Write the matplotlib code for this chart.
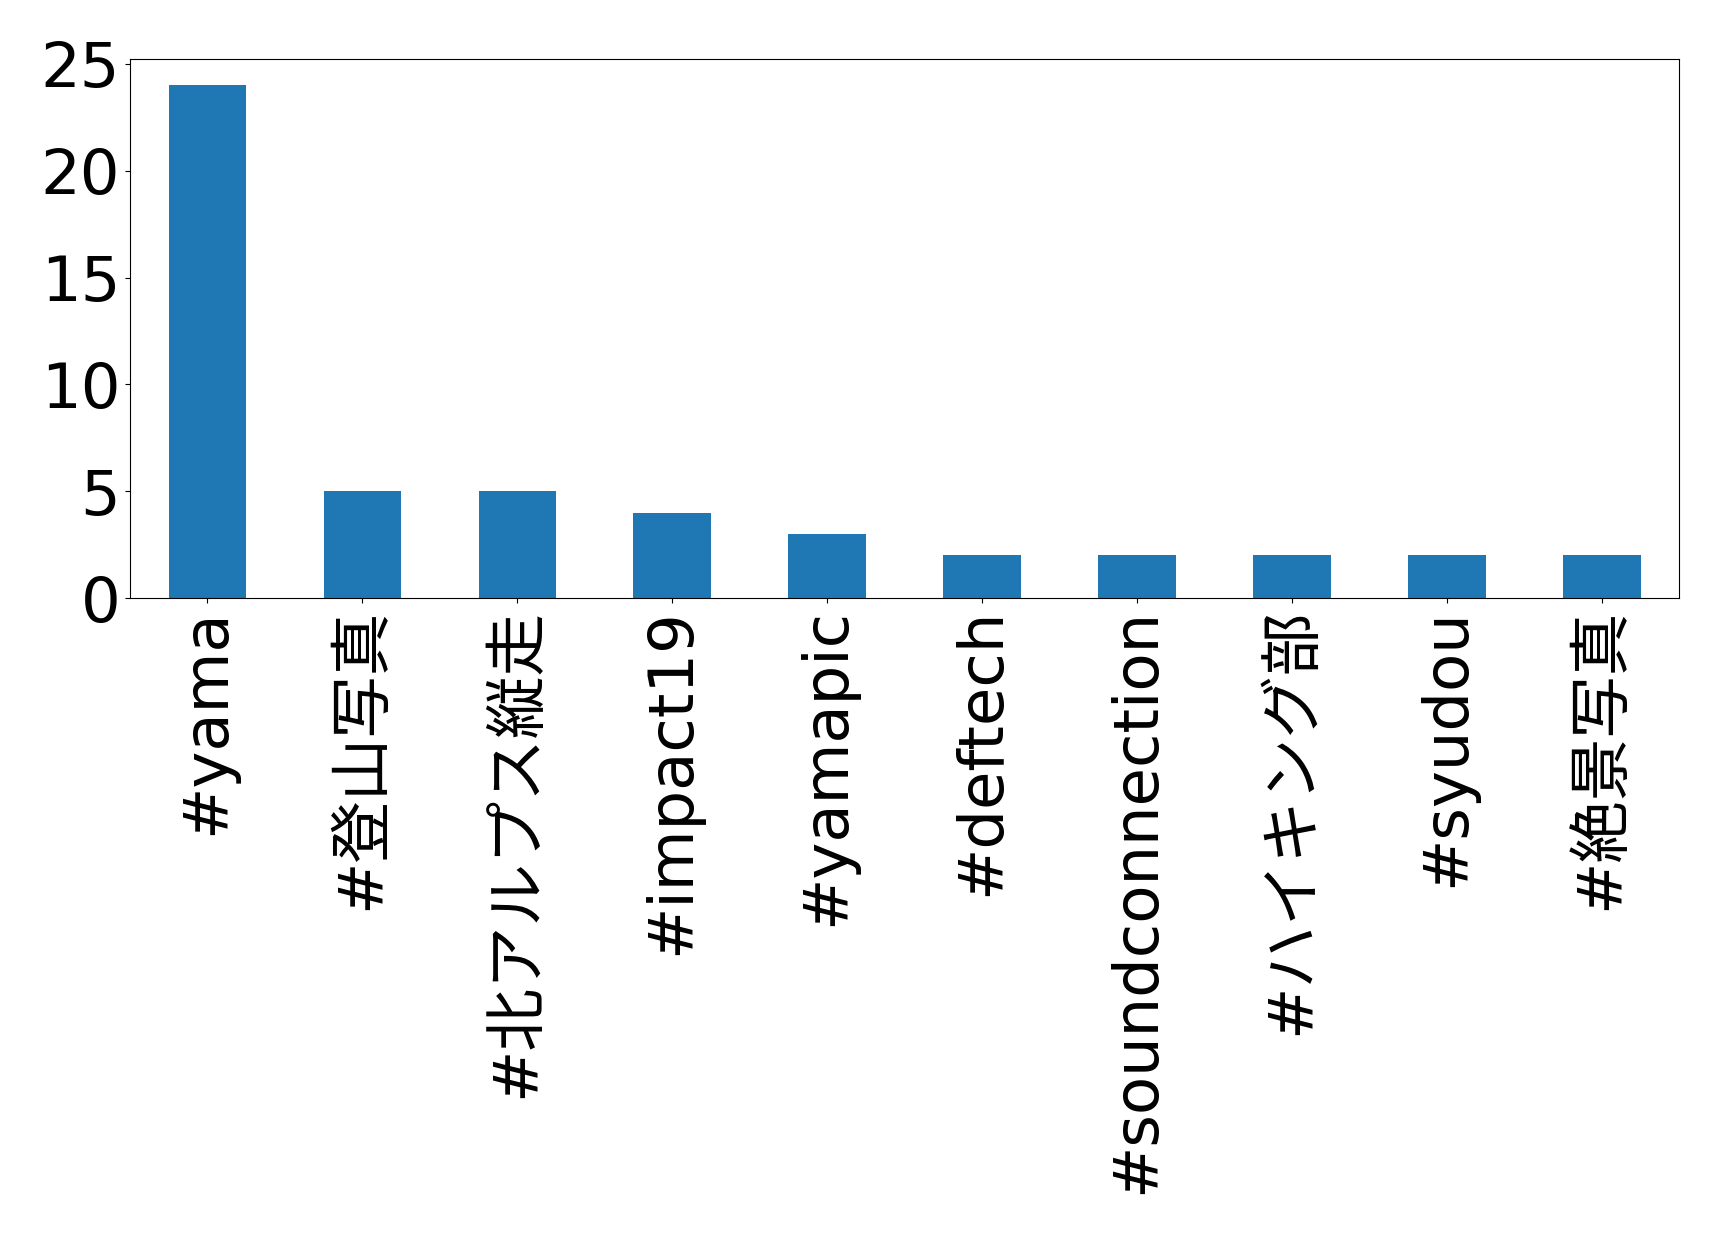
import matplotlib
matplotlib.use("Agg")
import matplotlib.pyplot as plt
import pandas as pd

# Latin text in DejaVu, Japanese falls through to Noto CJK
plt.rcParams['font.family'] = ['DejaVu Sans', 'Noto Sans CJK JP']

# hashtag counts (the reference drew the Japanese tags as empty glyph boxes,
# so those four are stand-ins with the same number of characters)
hashtags = ['#yama', '#登山写真', '#北アルプス縦走', '#impact19', '#yamapic',
            '#deftech', '#soundconnection', '#ハイキング部', '#syudou', '#絶景写真']
counts = [24, 5, 5, 4, 3, 2, 2, 2, 2, 2]

fig = plt.figure(figsize=(17.19, 12.34), dpi=100)
ax = fig.add_axes([0.0756, 0.5152, 0.9013, 0.4366])

s = pd.Series(counts, index=hashtags)
s.plot(kind='bar', ax=ax, fontsize=45, color='#1f77b4')

fig.savefig("out.png", dpi=100)
